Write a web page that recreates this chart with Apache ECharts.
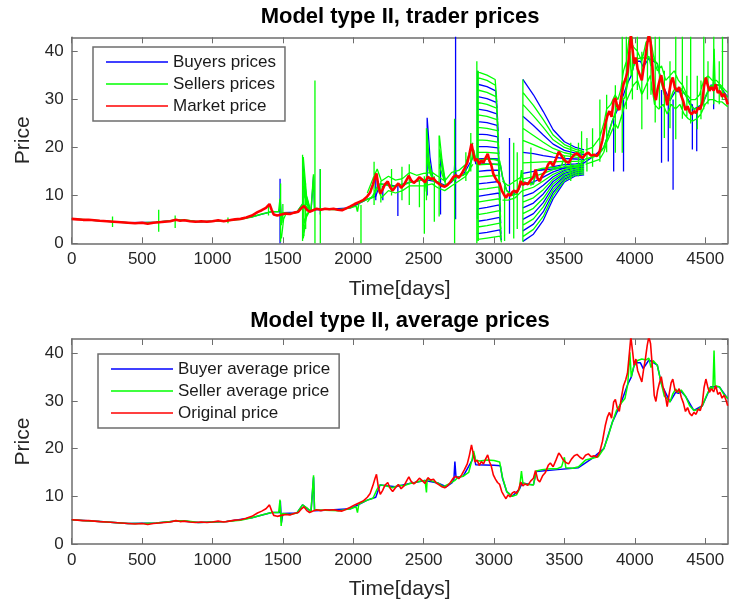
<!DOCTYPE html>
<html>
<head>
<meta charset="utf-8">
<script src="https://cdn.jsdelivr.net/npm/echarts@6/dist/echarts.min.js"></script>
<style>
  html, body { margin: 0; padding: 0; background: #fff; }
  #chart { width: 729px; height: 608px; }
</style>
</head>
<body>
<div id="chart"></div>
<script>
// ---- Market / original price, [day, price] ----
const marketPrice = [
  [0,5.1],[40,5.0],[80,4.9],[120,4.9],[160,4.8],[200,4.7],[250,4.6],[300,4.5],[350,4.4],[400,4.3],
  [450,4.2],[500,4.3],[540,4.1],[580,4.3],[620,4.4],[660,4.5],[700,4.6],[740,4.9],[770,4.7],[800,4.8],
  [840,4.6],[880,4.5],[920,4.6],[960,4.5],[1000,4.6],[1040,4.8],[1080,4.6],[1120,4.8],[1160,5.0],[1200,5.1],
  [1240,5.4],[1280,5.8],[1320,6.5],[1350,6.9],[1380,7.4],[1405,8.2],[1420,7.0],[1435,6.0],[1460,5.8],[1490,6.0],
  [1520,6.2],[1550,6.1],[1580,6.4],[1610,6.6],[1630,7.3],[1650,7.8],[1670,7.0],[1690,6.6],[1715,6.9],[1740,7.2],
  [1770,7.0],[1800,7.2],[1830,7.1],[1860,7.2],[1890,7.0],[1920,6.9],[1950,7.3],[1980,7.7],[2010,8.2],[2040,8.6],
  [2070,9.0],[2100,9.8],[2120,10.6],[2140,12.3],[2155,13.8],[2165,14.6],[2178,12.0],[2192,10.4],[2208,11.2],[2225,12.3],
  [2245,12.9],[2262,11.7],[2280,11.0],[2300,11.8],[2320,12.5],[2340,11.6],[2360,12.2],[2380,13.3],[2395,14.1],[2410,13.2],
  [2430,12.6],[2450,13.1],[2470,13.8],[2490,13.3],[2510,12.7],[2530,13.9],[2550,13.4],[2570,13.6],[2590,12.8],[2610,12.4],
  [2630,12.0],[2650,11.8],[2670,12.2],[2690,12.9],[2710,13.8],[2730,14.2],[2750,13.7],[2770,14.5],[2790,15.6],[2810,16.8],
  [2825,18.6],[2840,20.8],[2852,19.0],[2865,17.2],[2880,17.6],[2895,16.5],[2910,17.3],[2925,16.8],[2940,17.8],[2955,18.7],
  [2968,17.2],[2980,16.4],[2995,14.5],[3010,13.6],[3025,12.9],[3040,12.5],[3055,11.0],[3070,10.2],[3085,9.5],[3100,10.3],
  [3115,9.9],[3130,10.7],[3145,11.0],[3160,10.6],[3175,11.4],[3190,13.0],[3205,12.2],[3220,12.6],[3240,12.3],[3260,13.2],
  [3280,13.8],[3295,15.4],[3310,13.5],[3325,13.0],[3345,14.3],[3365,15.0],[3385,16.5],[3400,17.0],[3420,16.2],[3440,17.6],
  [3460,19.1],[3475,18.5],[3490,17.7],[3510,17.1],[3530,16.8],[3550,17.8],[3570,18.5],[3590,18.8],[3610,18.2],[3630,17.8],
  [3650,18.6],[3670,18.9],[3690,18.3],[3710,18.5],[3730,18.2],[3750,19.2],[3770,21.5],[3790,24.8],[3805,26.6],[3820,27.6],
  [3835,26.4],[3850,29.8],[3862,30.3],[3875,28.6],[3890,27.8],[3905,30.8],[3920,33.2],[3935,34.4],[3948,35.8],[3960,39.5],
  [3972,43.5],[3985,40.2],[3995,37.5],[4008,38.8],[4020,36.4],[4035,35.2],[4050,34.0],[4062,36.5],[4075,38.8],[4088,41.6],
  [4100,43.5],[4112,42.0],[4125,37.0],[4138,31.2],[4150,29.9],[4162,32.2],[4175,33.8],[4188,35.1],[4200,33.0],[4215,31.5],
  [4230,28.8],[4245,31.6],[4258,33.8],[4270,34.6],[4285,32.4],[4300,31.8],[4315,32.6],[4330,30.8],[4345,29.6],[4360,27.8],
  [4375,28.6],[4390,27.4],[4405,26.9],[4420,27.6],[4435,27.2],[4450,28.3],[4465,28.0],[4480,29.5],[4492,32.8],[4505,34.6],
  [4518,33.0],[4530,31.8],[4545,32.6],[4560,31.9],[4575,33.2],[4590,31.4],[4605,31.8],[4620,30.6],[4635,31.2],[4650,30.0],
  [4660,29.0]
];

// ---- Seller average price, [day, price] ----
const sellerAvg = [
  [0,5.1],[100,4.9],[200,4.7],[300,4.5],[400,4.3],[500,4.3],[600,4.4],[700,4.7],[760,4.9],[820,4.8],
  [900,4.5],[1000,4.6],[1100,4.7],[1200,5.0],[1280,5.5],[1350,6.1],[1420,6.6],[1470,6.6],[1480,9.3],[1488,3.8],
  [1495,6.4],[1550,6.2],[1600,6.5],[1640,8.2],[1670,7.6],[1700,6.8],[1712,6.6],[1718,14.4],[1725,7.2],[1800,7.1],
  [1900,7.0],[1980,7.4],[2020,7.8],[2030,6.6],[2040,8.4],[2100,9.2],[2140,9.6],[2170,11.5],[2190,12.4],[2230,12.2],
  [2280,11.8],[2320,12.3],[2360,12.2],[2400,12.7],[2440,12.9],[2480,13.2],[2510,13.3],[2520,10.8],[2525,13.6],[2560,13.2],
  [2600,12.8],[2640,12.0],[2680,12.6],[2720,13.3],[2745,14.0],[2780,14.2],[2820,15.0],[2845,17.8],[2855,19.5],[2870,17.5],
  [2900,17.4],[2950,17.6],[3000,17.5],[3040,17.2],[3060,14.0],[3090,11.0],[3130,10.0],[3160,10.3],[3180,11.5],[3195,15.3],
  [3205,12.8],[3240,12.5],[3280,12.4],[3300,15.3],[3340,15.6],[3400,15.8],[3450,15.8],[3480,16.2],[3500,18.2],[3510,16.0],
  [3560,15.9],[3600,16.2],[3650,17.6],[3700,18.0],[3740,18.3],[3780,20.0],[3810,22.5],[3840,25.5],[3870,28.0],[3900,29.4],
  [3930,30.5],[3950,33.5],[3965,40.2],[3975,35.0],[3990,37.0],[4020,38.5],[4050,38.8],[4080,38.6],[4100,39.0],[4115,37.0],
  [4130,38.5],[4160,37.5],[4190,33.5],[4210,31.0],[4230,30.5],[4250,29.8],[4270,31.5],[4290,32.5],[4310,31.8],[4330,32.3],
  [4360,31.0],[4390,29.0],[4420,28.0],[4450,28.2],[4480,29.0],[4510,31.2],[4540,33.0],[4555,32.5],[4563,40.6],[4570,33.2],
  [4600,33.0],[4630,31.5],[4660,30.5]
];

// ---- Buyer average price, [day, price] ----
const buyerAvg = [
  [0,5.1],[200,4.7],[400,4.3],[600,4.4],[760,4.9],[900,4.5],[1100,4.7],[1280,5.5],[1420,6.6],[1478,6.6],
  [1482,9.0],[1490,4.5],[1500,6.4],[1600,6.5],[1640,8.2],[1700,6.8],[1712,6.6],[1718,14.0],[1725,7.0],[1800,7.1],
  [1980,7.4],[2100,9.2],[2160,9.8],[2190,12.4],[2300,12.0],[2400,12.7],[2510,13.3],[2600,12.8],[2660,12.0],[2700,12.8],
  [2715,13.5],[2722,17.3],[2730,14.0],[2780,14.2],[2845,17.6],[2858,19.0],[2870,16.6],[3000,16.5],[3045,16.4],[3060,13.8],
  [3090,11.0],[3130,10.0],[3180,11.5],[3200,12.8],[3280,12.4],[3300,15.2],[3450,15.6],[3600,16.0],[3700,18.0],[3780,20.0],
  [3840,25.5],[3900,29.4],[3950,33.5],[3975,35.0],[4000,38.0],[4040,38.0],[4060,36.8],[4100,38.6],[4160,37.5],[4190,33.5],
  [4250,29.8],[4290,31.8],[4310,31.6],[4330,32.0],[4360,31.0],[4420,28.0],[4480,29.0],[4540,33.0],[4600,33.0],[4660,30.5]
];

// ---- Individual trader price excursions, [day, low, high] ----
const sellerSpikes = [
  [290,3.4,5.6],[618,2.4,7.0],[735,3.2,5.8],[1110,4.2,5.4],[1398,5.8,8.0],[1484,0.3,12.5],[1500,4.2,8.2],
  [1640,0.5,18.5],[1650,1.5,16.0],[1662,3.0,12.5],[1728,0.0,34.0],[1766,0.0,15.5],[2055,0.0,8.0],[2148,8.0,17.0],
  [2196,8.5,13.0],[2272,10.0,15.5],[2346,9.0,16.0],[2398,8.0,16.5],[2470,7.5,13.0],[2505,2.0,14.0],[2520,9.0,24.0],
  [2576,4.5,14.0],[2610,5.6,22.5],[2720,0.0,26.0],[2800,13.0,19.0],[2835,15.0,23.0],[2878,0.0,38.0],[2888,0.5,36.0],
  [3075,0.5,12.0],[3140,1.0,21.0],[3165,3.0,19.0],[3205,0.3,34.2],[3262,12.0,20.0],[3545,13.0,21.0],[3600,14.0,21.0],
  [3622,15.0,23.4],[3660,15.0,22.0],[3700,16.0,24.0],[3752,17.0,30.0],[3800,19.0,31.0],[3862,18.9,33.0],[3911,18.9,43.5],
  [3940,28.0,43.5],[3983,30.0,43.5],[4018,32.0,43.5],[4050,23.8,40.0],[4090,30.0,43.5],[4115,31.0,43.5],[4145,25.2,43.5],
  [4175,28.0,43.5],[4210,22.0,36.0],[4250,24.0,38.0],[4291,21.7,43.5],[4338,26.0,43.5],[4370,26.5,35.0],[4397,25.0,43.5],
  [4444,23.8,35.0],[4470,25.9,34.0],[4490,28.0,43.5],[4520,29.0,38.0],[4561,29.0,43.5],[4600,29.0,38.0],[4623,30.0,43.5]
];
const buyerSpikes = [
  [1480,0.0,13.5],[1642,2.0,17.0],[1766,6.0,15.5],[2160,9.0,14.0],[2210,9.0,12.0],[2317,5.7,12.0],[2525,10.0,26.2],
  [2620,6.0,18.5],[2727,5.0,43.5],[2882,5.0,36.0],[3110,2.0,22.0],[3850,15.0,26.0],[3920,15.0,30.0],[4190,16.8,32.0],
  [4238,17.1,30.0],[4272,11.2,30.0],[4409,19.6,29.0],[4440,19.2,28.0],[4560,28.0,35.0]
];

// ---- Decaying price paths after shocks, polylines of [day, price] ----
const sellerWedges = [
  [[1645,18.0],[1668,10.0],[1692,7.4]], [[1645,15.0],[1668,9.0],[1692,7.2]], [[1645,12.0],[1668,8.2],[1692,7.0]],
  [[1645,1.0],[1668,5.5],[1692,6.8]], [[1645,3.5],[1668,6.0],[1692,6.9]], [[1490,1.0],[1505,5.0],[1520,6.0]],
  [[2522,24.0],[2540,17.0],[2565,13.6]], [[2522,21.0],[2540,16.0],[2565,13.4]], [[2522,18.0],[2540,15.0],[2565,13.2]],
  [[2612,22.5],[2630,17.5],[2655,12.8]], [[2612,19.5],[2630,16.0],[2655,12.6]], [[2612,16.5],[2630,14.5],[2655,12.4]]
];
const buyerWedges = [
  [[2525,26.2],[2545,18.0],[2565,13.8]], [[2618,18.5],[2635,15.5],[2655,13.0]], [[1640,17.0],[1665,10.0],[1690,7.3]]
];

// ---- Spread of seller quotes around the market, polylines of [day, price] ----
const sellerBands = [
  [[2100,10.5],[2140,13.5],[2170,15.5],[2200,13.0],[2250,14.0],[2300,13.2],[2350,13.5],[2400,14.8],[2450,14.2],[2500,14.6],
   [2560,14.8],[2600,14.0],[2650,13.0],[2700,14.8],[2750,15.2],[2800,16.5],[2850,21.0]],
  [[2100,8.6],[2140,10.0],[2170,11.8],[2200,9.5],[2250,11.0],[2300,10.5],[2350,11.0],[2400,12.0],[2450,12.0],[2500,12.0],
   [2560,12.4],[2600,11.6],[2650,11.0],[2700,12.0],[2750,13.0],[2800,14.0],[2850,16.5]],
  [[3060,13.0],[3100,12.0],[3150,13.0],[3200,14.0]],
  [[3060,9.0],[3100,9.0],[3150,9.5],[3200,11.0]],
  [[3650,19.5],[3700,20.0],[3750,22.0],[3780,25.0],[3800,28.0],[3830,29.0],[3860,31.0],[3880,30.0],[3900,32.0],[3920,36.0],
   [3940,38.0],[3960,43.0],[3990,41.0],[4020,40.0],[4050,38.0],[4080,42.0],[4110,43.0],[4140,38.0],[4160,36.0],[4190,37.0],
   [4220,34.0],[4250,35.0],[4280,36.0],[4310,34.0],[4340,33.0],[4370,31.0],[4400,30.0],[4430,30.0],[4460,31.0],[4490,34.0],
   [4520,35.0],[4550,34.0],[4580,34.0],[4610,33.0],[4640,32.0],[4660,31.5]],
  [[3650,16.5],[3700,17.0],[3750,17.5],[3780,19.0],[3800,21.0],[3830,23.0],[3860,25.0],[3880,24.0],[3900,26.0],[3930,29.0],
   [3960,31.0],[3990,33.0],[4020,34.0],[4050,31.0],[4080,33.0],[4110,35.0],[4140,29.0],[4170,28.0],[4200,29.0],[4230,27.0],
   [4260,29.0],[4290,28.0],[4320,29.0],[4350,27.0],[4380,26.0],[4410,25.5],[4440,26.0],[4470,27.0],[4500,29.0],[4530,30.0],
   [4560,30.0],[4590,29.5],[4620,29.5],[4660,28.5]]
];

// ---- Frozen quotes, first episode: [price@2885, price@2950, lastDay, price@lastDay, price 10 days later] ----
const fanAStartDays = [2885, 2950];
const fanASellers = [
  [35.8,35.1,3008,34.2,30.5],[34.6,34.0,3010,33.0,29.5],[32.0,31.5,3014,30.6,27.0],[29.4,29.0,3018,28.2,24.6],
  [26.8,26.5,3021,25.8,22.2],[24.2,24.0,3024,23.5,19.8],[21.6,21.5,3026,21.1,17.4],[19.0,19.0,3029,18.8,15.0],
  [16.4,16.5,3031,16.5,12.6],[13.8,14.0,3033,14.2,10.2],[11.2,11.4,3035,11.8,7.8],[8.6,8.9,3037,9.3,5.4],
  [6.0,6.3,3039,6.8,3.0],[3.4,3.7,3041,4.2,1.2],[0.8,1.1,3043,1.5,0.2]
];
const fanABuyers = [
  [33.2,32.7,3012,31.8,28.2],[30.6,30.2,3016,29.4,25.8],[28.0,27.7,3020,27.0,23.4],[25.4,25.2,3022,24.6,21.0],
  [22.8,22.7,3025,22.2,18.6],[20.2,20.2,3028,19.9,16.2],[17.6,17.7,3030,17.6,13.8],[15.0,15.2,3032,15.3,11.4],
  [12.4,12.6,3034,12.9,9.0],[9.8,10.1,3036,10.5,6.6],[7.2,7.5,3038,8.0,4.2],[4.6,4.9,3040,5.4,2.0],[2.0,2.3,3042,2.8,0.6]
];

// ---- Frozen quotes, second episode: prices on shared days ----
const fanBDays = [3205, 3280, 3350, 3420, 3500, 3580, 3640];
const fanBBuyers = [
  [34.2,31.0,27.5,23.7,21.2,20.0,19.5],[26.5,24.6,22.6,20.7,19.4,18.8,18.5],[19.0,18.7,18.3,18.0,17.7,17.6,17.5],
  [14.6,15.0,15.5,16.0,16.4,16.6,16.8],[12.2,12.8,13.8,14.9,15.7,16.1,16.3],[9.8,10.6,12.1,13.9,15.2,15.7,15.9],
  [7.4,8.4,10.3,12.9,14.6,15.3,15.5],[5.0,6.2,8.5,11.8,14.0,14.9,15.1],[2.6,4.0,6.6,10.6,13.4,14.5,14.7],
  [0.4,1.9,4.8,9.3,12.8,14.1,14.3]
];
const fanBSellers = [
  [31.5,28.8,25.8,22.6,20.6,19.6,19.1],[29.0,26.6,24.2,21.6,20.0,19.2,18.8],[24.0,22.5,21.1,19.8,18.9,18.4,18.2],
  [21.5,20.6,19.7,18.9,18.3,18.0,17.9],[16.8,16.9,17.0,17.0,17.1,17.1,17.2],[13.4,13.9,14.6,15.4,16.0,16.3,16.5],
  [11.0,11.7,13.0,14.4,15.4,15.9,16.1],[8.6,9.5,11.2,13.4,14.9,15.5,15.7],[6.2,7.3,9.4,12.4,14.3,15.1,15.3],
  [3.8,5.1,7.6,11.2,13.7,14.7,14.9],[1.4,2.9,5.6,10.0,13.1,14.3,14.5]
];

// ---- Axis settings ----
const X_MAX = 4660;
const Y_MAX = 43;
const X_STEP = 500;
const Y_STEP = 10;

// ---- Helpers that turn the tables above into line-series data ----
const BREAK = ['-', '-'];
function joinStrokes(strokes) {
  const out = [];
  strokes.forEach(s => { s.forEach(p => out.push(p)); out.push(BREAK); });
  return out;
}
const spikeStrokes = list => list.map(([d, lo, hi]) => [[d, lo], [d, hi]]);
const fanAStrokes = rows => rows.map(r => [[fanAStartDays[0], r[0]], [fanAStartDays[1], r[1]], [r[2], r[3]], [r[2] + 10, r[4]]]);
const fanBStrokes = rows => rows.map(r => r.map((v, i) => [fanBDays[i], v]));

const BLUE = '#0000ff', GREEN = '#00ff00', RED = '#ff0000';
const FONT = '"Liberation Sans", Arial, Helvetica, sans-serif';
const FRAME = '#6e6e6e';
const TEXT = '#262626';
const plainNumber = v => String(v);

function xAxes(gridIndex) {
  const common = {
    type: 'value', gridIndex, min: 0, max: X_MAX, interval: X_STEP,
    axisLine: { show: true, onZero: false, lineStyle: { color: FRAME, width: 1.5 } },
    axisTick: { show: true, inside: true, length: 6, lineStyle: { color: FRAME, width: 1 } },
    splitLine: { show: false }
  };
  return [
    Object.assign({}, common, {
      position: 'bottom',
      axisLabel: { margin: 8, fontSize: 17, color: TEXT, fontFamily: FONT, showMaxLabel: false, formatter: plainNumber },
      name: 'Time[days]', nameLocation: 'middle', nameGap: 35,
      nameTextStyle: { fontSize: 21, color: TEXT, fontFamily: FONT }
    }),
    Object.assign({}, common, { position: 'top', axisLabel: { show: false } })
  ];
}
function yAxes(gridIndex) {
  const common = {
    type: 'value', gridIndex, min: 0, max: Y_MAX, interval: Y_STEP,
    axisLine: { show: true, onZero: false, lineStyle: { color: FRAME, width: 1.5 } },
    axisTick: { show: true, inside: true, length: 6, lineStyle: { color: FRAME, width: 1 } },
    splitLine: { show: false }
  };
  return [
    Object.assign({}, common, {
      position: 'left',
      axisLabel: { margin: 8, fontSize: 17, color: TEXT, fontFamily: FONT, showMaxLabel: false, formatter: plainNumber },
      name: 'Price', nameLocation: 'middle', nameGap: 38, nameRotate: 90,
      nameTextStyle: { fontSize: 21, color: TEXT, fontFamily: FONT }
    }),
    Object.assign({}, common, { position: 'right', axisLabel: { show: false } })
  ];
}

function lineSeries(name, data, color, width, xi, yi) {
  return {
    type: 'line', name, data, xAxisIndex: xi, yAxisIndex: yi,
    symbol: 'none', showSymbol: false, connectNulls: false, clip: true,
    lineStyle: { color, width }, itemStyle: { color },
    emphasis: { disabled: true }, silent: true, animation: false
  };
}

function legendBox(names, left, top) {
  return {
    data: names, orient: 'vertical', left, top,
    icon: 'rect', itemWidth: 62, itemHeight: 1.6, itemGap: 0,
    padding: [4, 9, 4, 13],
    borderColor: FRAME, borderWidth: 1.5, backgroundColor: '#ffffff',
    selectedMode: false,
    textStyle: { fontSize: 17, color: '#1a1a1a', fontFamily: FONT, lineHeight: 22 }
  };
}

const chart = echarts.init(document.getElementById('chart'), null, { renderer: 'canvas' });
chart.setOption({
  backgroundColor: '#ffffff',
  animation: false,
  graphic: [
    { type: 'text', x: 400, y: 17, style: { text: 'Model type II, trader prices', font: 'bold 22px ' + FONT, fill: '#000', align: 'center', verticalAlign: 'middle', textAlign: 'center', textVerticalAlign: 'middle' } },
    { type: 'text', x: 400, y: 321, style: { text: 'Model type II, average prices', font: 'bold 22px ' + FONT, fill: '#000', align: 'center', verticalAlign: 'middle', textAlign: 'center', textVerticalAlign: 'middle' } }
  ],
  grid: [
    { left: 71.7, top: 37.3, width: 656, height: 206 },
    { left: 71.7, top: 339, width: 656, height: 205 }
  ],
  xAxis: [...xAxes(0), ...xAxes(1)],
  yAxis: [...yAxes(0), ...yAxes(1)],
  legend: [
    legendBox(['Buyers prices', 'Sellers prices', 'Market price'], 93, 47),
    legendBox(['Buyer average price', 'Seller average price', 'Original price'], 98, 354)
  ],
  series: [
    // trader prices
    lineSeries('Buyers prices', buyerAvg, BLUE, 1.3, 0, 0),
    lineSeries('Buyers prices', joinStrokes([
      ...spikeStrokes(buyerSpikes), ...buyerWedges,
      ...fanAStrokes(fanABuyers), ...fanBStrokes(fanBBuyers)
    ]), BLUE, 1.3, 0, 0),
    lineSeries('Sellers prices', sellerAvg, GREEN, 1.5, 0, 0),
    lineSeries('Sellers prices', joinStrokes([
      ...sellerBands, ...spikeStrokes(sellerSpikes), ...sellerWedges,
      ...fanAStrokes(fanASellers), ...fanBStrokes(fanBSellers)
    ]), GREEN, 1.3, 0, 0),
    lineSeries('Market price', marketPrice, RED, 2.6, 0, 0),
    // average prices
    lineSeries('Buyer average price', buyerAvg, BLUE, 1.5, 2, 2),
    lineSeries('Seller average price', sellerAvg, GREEN, 1.5, 2, 2),
    lineSeries('Original price', marketPrice, RED, 1.6, 2, 2)
  ]
});
</script>
</body>
</html>
